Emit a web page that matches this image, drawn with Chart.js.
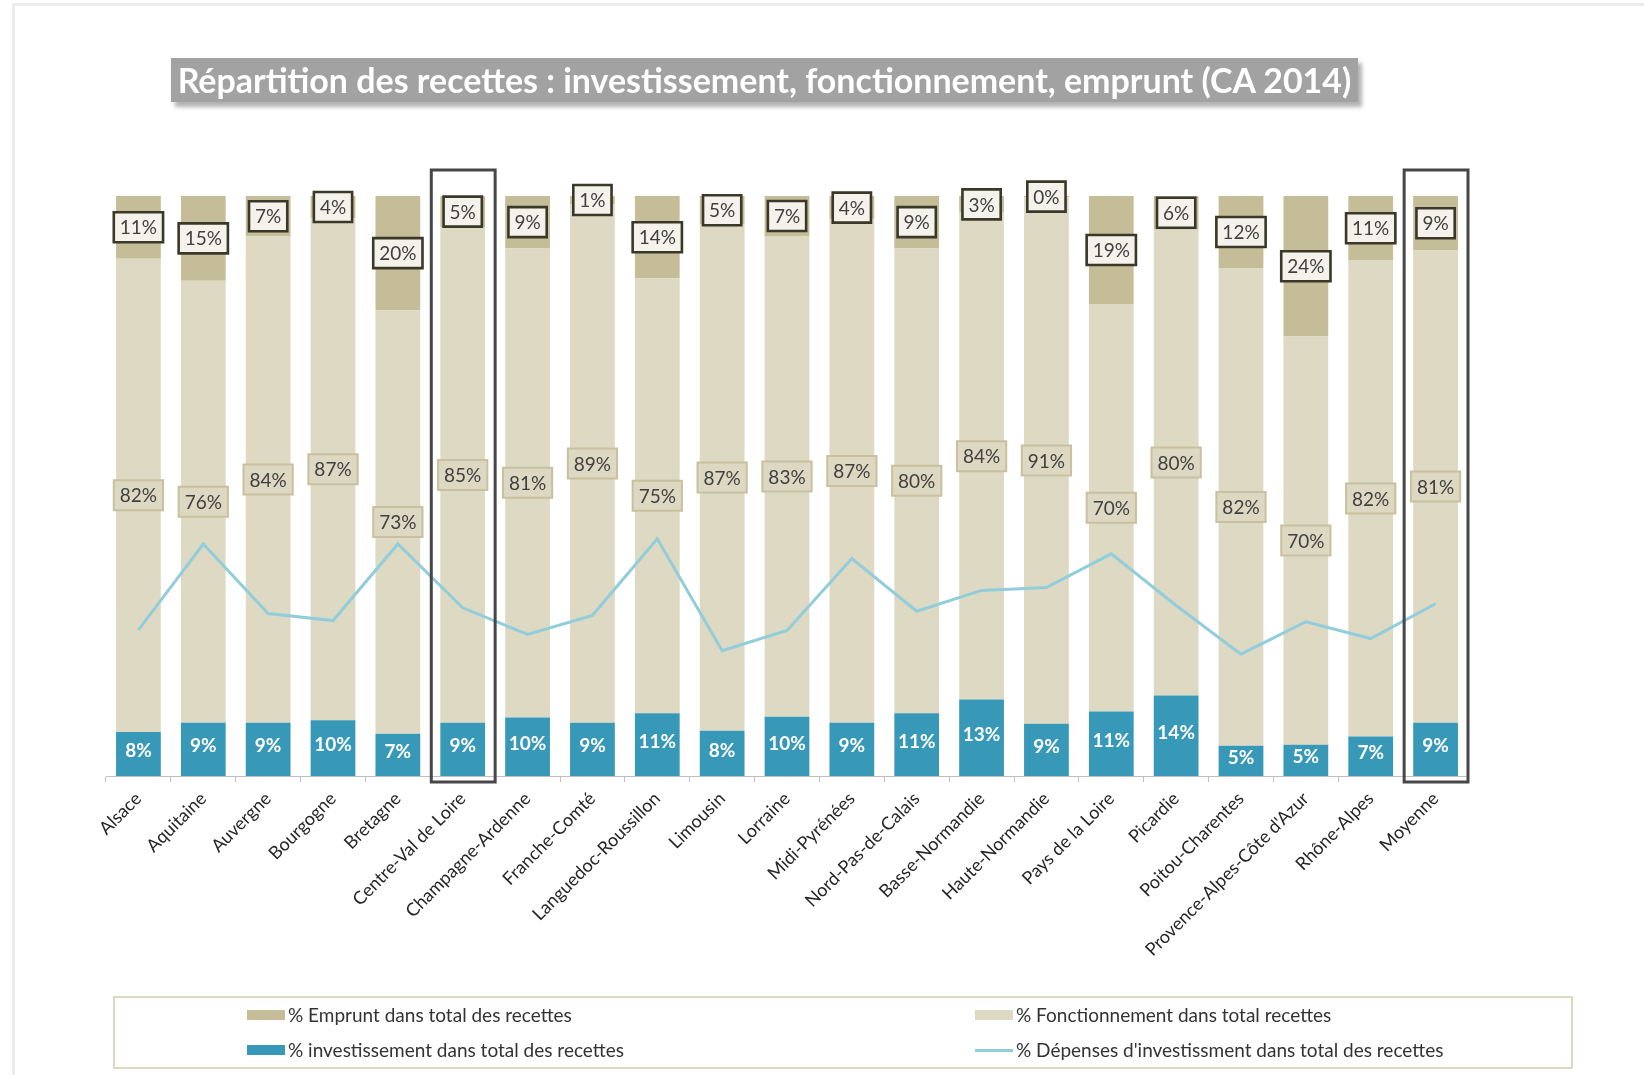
<!DOCTYPE html>
<html>
<head>
<meta charset="utf-8">
<script src="https://cdn.jsdelivr.net/npm/chart.js@4.4.1/dist/chart.umd.min.js"></script>
<style>
  html, body { margin: 0; padding: 0; background: #ffffff; }
  body { width: 1644px; height: 1075px; position: relative; overflow: hidden; font-family: Lato, "Noto Sans", sans-serif; }
  #frame { position: absolute; left: 12px; top: 3px; right: 0; bottom: 0; border-top: 3px solid #ececec; border-left: 3px solid #ececec; }
  #title { position: absolute; left: 171px; top: 58px; width: 1187px; height: 44px; background: #a2a2a2;
           box-shadow: 4px 5px 4px rgba(0,0,0,0.30); color: #ffffff; font-weight: bold; text-align: center;
           line-height: 44px; white-space: nowrap; }
  #chartWrap { position: absolute; left: 0; top: 0; width: 1644px; height: 1075px; }
  #legend { position: absolute; left: 113px; top: 996px; width: 1456px; height: 69px; border: 2px solid #ddd8c0; }
  .lg { position: absolute; font-size: 19px; color: #333333; white-space: nowrap; line-height: 22px; }
  .sw { position: absolute; }
</style>
</head>
<body>
<div id="frame"></div>
<div id="chartWrap"><canvas id="c" width="1644" height="1075"></canvas></div>
<div id="title">Répartition des recettes : investissement, fonctionnement, emprunt (CA 2014)</div>
<div id="legend"></div>
<script>
const categories = ["Alsace", "Aquitaine", "Auvergne", "Bourgogne", "Bretagne", "Centre-Val de Loire",
  "Champagne-Ardenne", "Franche-Comté", "Languedoc-Roussillon", "Limousin", "Lorraine", "Midi-Pyrénées",
  "Nord-Pas-de-Calais", "Basse-Normandie", "Haute-Normandie", "Pays de la Loire", "Picardie",
  "Poitou-Charentes", "Provence-Alpes-Côte d'Azur", "Rhône-Alpes", "Moyenne"];
const investissement = [7.6, 9.2, 9.2, 9.6, 7.3, 9.2, 10.1, 9.2, 10.8, 7.8, 10.2, 9.2, 10.8, 13.2, 9.0, 11.1, 13.9, 5.2, 5.4, 6.8, 9.2];
const fonctionnement = [81.6, 76.2, 83.8, 86.6, 73.0, 85.4, 80.9, 89.4, 75.0, 87.3, 82.9, 86.8, 80.2, 83.9, 90.8, 70.3, 80.3, 82.4, 70.4, 82.1, 81.4];
const emprunt = [10.8, 14.6, 7.0, 3.8, 19.7, 5.4, 9.0, 1.4, 14.2, 4.9, 6.9, 4.0, 9.0, 2.9, 0.2, 18.6, 5.8, 12.4, 24.2, 11.1, 9.4];
const depensesInvest = [25.2, 40.0, 28.0, 26.8, 40.0, 29.0, 24.4, 27.7, 40.9, 21.6, 25.1, 37.5, 28.4, 32.0, 32.5, 38.3, 29.4, 21.0, 26.6, 23.7, 29.7];
const highlighted = ["Centre-Val de Loire", "Moyenne"];
const seriesNames = ["% investissement dans total des recettes", "% Fonctionnement dans total recettes",
  "% Emprunt dans total des recettes", "% Dépenses d'investissment dans total des recettes"];

const COL_INV = "#3798b7", COL_FON = "#ddd9c3", COL_EMP = "#c4bd97", COL_LINE = "#92cddc";
const FONT = "Lato, 'Noto Sans', sans-serif";

// Fit title font to the box
(function(){
  const t = document.getElementById('title');
  const cx = document.createElement('canvas').getContext('2d');
  cx.font = "bold 100px " + FONT;
  const w = cx.measureText(t.textContent).width;
  t.style.fontSize = (100 * 1175 / w).toFixed(2) + "px";
})();

const labelPlugin = {
  id: 'labelPlugin',
  afterDatasetsDraw(chart) {
    const ctx = chart.ctx;
    ctx.save();
    ctx.textAlign = 'center';
    ctx.textBaseline = 'middle';
    [0, 1, 2].forEach(di => {
      const meta = chart.getDatasetMeta(di);
      const data = chart.data.datasets[di].data;
      meta.data.forEach((el, i) => {
        const p = el.getProps(['x', 'y', 'base'], true);
        const cy = (p.y + p.base) / 2;
        const txt = Math.round(data[i]) + "%";
        if (di === 0) {
          ctx.font = "bold 19px " + FONT;
          ctx.fillStyle = "#ffffff";
          ctx.fillText(txt, p.x, cy - 3);
        } else {
          ctx.font = "19px " + FONT;
          const tw = ctx.measureText(txt).width;
          const bw = tw + 12, bh = 30;
          ctx.beginPath();
          ctx.rect(p.x - bw / 2, cy - bh / 2, bw, bh);
          if (di === 1) {
            ctx.fillStyle = "#ddd8c2"; ctx.fill();
            ctx.lineWidth = 2; ctx.strokeStyle = "#c8c09e"; ctx.stroke();
          } else {
            ctx.fillStyle = "#f4f2ea"; ctx.fill();
            ctx.lineWidth = 2.6; ctx.strokeStyle = "#3a3828"; ctx.stroke();
          }
          ctx.fillStyle = "#404040";
          ctx.fillText(txt, p.x, cy + 1);
        }
      });
    });
    ctx.restore();
  },
  afterDraw(chart) {
    const ctx = chart.ctx, xs = chart.scales.x, area = chart.chartArea;
    const cw = (area.right - area.left) / categories.length;
    ctx.save();
    ctx.strokeStyle = "#474747";
    ctx.lineWidth = 3;
    highlighted.forEach(name => {
      const i = categories.indexOf(name);
      const cx = xs.getPixelForValue(i);
      ctx.strokeRect(cx - cw / 2 + 1, area.top - 26, cw - 1, area.bottom - area.top + 32);
    });
    ctx.restore();
  }
};

new Chart(document.getElementById('c'), {
  data: {
    labels: categories,
    datasets: [
      { type: 'bar', label: seriesNames[0], data: investissement, backgroundColor: COL_INV, stack: 's', order: 1 },
      { type: 'bar', label: seriesNames[1], data: fonctionnement, backgroundColor: COL_FON, stack: 's', order: 1 },
      { type: 'bar', label: seriesNames[2], data: emprunt, backgroundColor: COL_EMP, stack: 's', order: 1 },
      { type: 'line', label: seriesNames[3], data: depensesInvest, borderColor: COL_LINE, borderWidth: 3,
        pointRadius: 0, tension: 0, fill: false, order: 0 }
    ]
  },
  options: {
    responsive: false,
    animation: false,
    devicePixelRatio: 1,
    layout: { padding: { left: 106, right: 176, top: 196, bottom: 99 } },
    datasets: { bar: { categoryPercentage: 1, barPercentage: 0.69 } },
    plugins: { legend: { display: false }, title: { display: false }, tooltip: { enabled: false } },
    scales: {
      x: {
        stacked: true,
        offset: true,
        grid: { display: true, drawOnChartArea: false, drawTicks: true, tickLength: 6, color: "#bfbfbf", offset: true },
        border: { display: true, color: "#bfbfbf", width: 1 },
        ticks: { minRotation: 45, maxRotation: 45, autoSkip: false, padding: 6, color: "#262626",
                 font: { family: FONT, size: 18 } },
        afterFit(scale) { scale.height = 200; scale.paddingLeft = 0; scale.paddingRight = 0; }
      },
      y: { stacked: true, display: false, min: 0, max: 100 }
    }
  },
  plugins: [labelPlugin]
});

// HTML legend
(function(){
  const lg = document.getElementById('legend');
  const items = [
    { name: seriesNames[2], color: COL_EMP, x: 247, y: 1015, kind: 'box' },
    { name: seriesNames[1], color: COL_FON, x: 975, y: 1015, kind: 'box' },
    { name: seriesNames[0], color: COL_INV, x: 247, y: 1050, kind: 'box' },
    { name: seriesNames[3], color: COL_LINE, x: 975, y: 1050, kind: 'line' }
  ];
  const ox = 115, oy = 998;
  items.forEach(it => {
    const sw = document.createElement('div');
    sw.className = 'sw';
    sw.style.background = it.color;
    sw.style.left = (it.x - ox) + 'px';
    sw.style.width = '38px';
    if (it.kind === 'box') { sw.style.top = (it.y - 5 - oy) + 'px'; sw.style.height = '10px'; }
    else { sw.style.top = (it.y - 1.5 - oy) + 'px'; sw.style.height = '3px'; }
    lg.appendChild(sw);
    const t = document.createElement('div');
    t.className = 'lg';
    t.textContent = it.name;
    t.style.left = (it.x + 41 - ox) + 'px';
    t.style.top = (it.y - 11 - oy) + 'px';
    lg.appendChild(t);
  });
})();
</script>
</body>
</html>
